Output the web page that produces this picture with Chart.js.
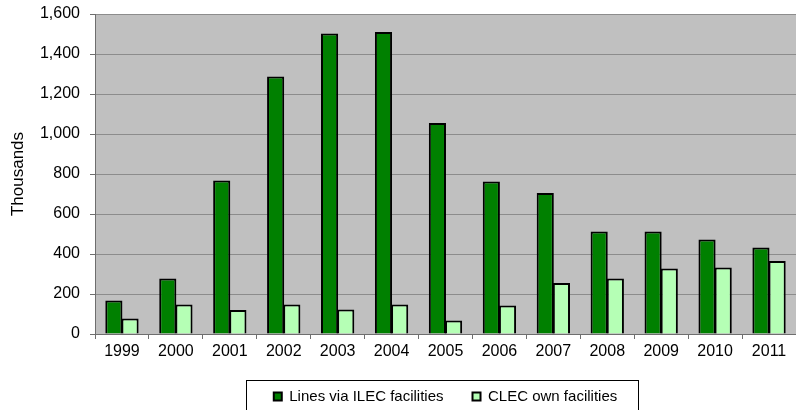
<!DOCTYPE html>
<html>
<head>
<meta charset="utf-8">
<script src="https://cdn.jsdelivr.net/npm/chart.js@4"></script>
<style>
  html, body { margin: 0; padding: 0; background: #fff; }
  #wrap { width: 796px; height: 410px; }
</style>
</head>
<body>
<div id="wrap"><canvas id="chartLines"></canvas></div>
<script>
// datos (miles)
const years = ['1999', '2000', '2001', '2002', '2003', '2004', '2005', '2006', '2007', '2008', '2009', '2010', '2011'];
const ilecLines = [168, 278, 767, 1288, 1502, 1510, 1055, 762, 705, 513, 513, 473, 433];
const clecLines = [77, 147, 120, 147, 123, 147, 67, 142, 255, 278, 327, 333, 365];
const yTicks = [0, 200, 400, 600, 800, 1000, 1200, 1400, 1600];

const FONT = 'Arial, "Liberation Sans", sans-serif';
const AXIS = '#6e6e6e';

// fondo gris del area de trazado
const plotBg = {
    id: 'plotBg',
    beforeDraw: function (chart) {
        const a = chart.chartArea;
        const ctx = chart.ctx;
        ctx.save();
        ctx.fillStyle = '#c0c0c0';
        ctx.fillRect(a.left, a.top, a.right - a.left, a.bottom - a.top);
        ctx.restore();
    },
};

// marco de la leyenda
const legendFrame = {
    id: 'legendFrame',
    afterDraw: function (chart) {
        const lg = chart.legend;
        if (!lg || !lg.legendHitBoxes || !lg.legendHitBoxes.length) return;
        const hb = lg.legendHitBoxes;
        const first = hb[0];
        const last = hb[hb.length - 1];
        const x0 = Math.round(first.left - 28) + 0.5;
        const x1 = Math.round(last.left + last.width + 21) + 0.5;
        const y0 = Math.round(lg.top + 20) + 0.5;
        const ctx = chart.ctx;
        ctx.save();
        ctx.strokeStyle = '#000';
        ctx.lineWidth = 1;
        ctx.strokeRect(x0, y0, x1 - x0, 60);
        ctx.restore();
    },
};

new Chart(document.getElementById('chartLines'), {
    type: 'bar',
    data: {
        labels: years,
        datasets: [
            {
                label: 'Lines via ILEC facilities',
                data: ilecLines,
                backgroundColor: '#008000',
                borderColor: '#000',
                borderWidth: 2,
            },
            {
                label: 'CLEC own facilities',
                data: clecLines,
                backgroundColor: '#b5ffb5',
                borderColor: '#000',
                borderWidth: 2,
            },
        ],
    },
    options: {
        responsive: true,
        maintainAspectRatio: false,
        animation: false,
        categoryPercentage: 0.6,
        barPercentage: 1.06,
        layout: { padding: { left: 0, top: 14, right: -7, bottom: -4 } },
        plugins: {
            tooltip: { enabled: false },
            legend: {
                position: 'bottom',
                fullSize: false,
                labels: {
                    color: '#000',
                    font: { family: FONT, size: 15 },
                    boxWidth: 8,
                    boxHeight: 8,
                    padding: 29,
                },
            },
        },
        scales: {
            x: {
                afterFit: function (s) { s.height = 26; s.paddingLeft = 0; s.paddingRight = 0; },
                ticks: { color: '#000', font: { family: FONT, size: 16 }, padding: 3, maxRotation: 0 },
                grid: { offset: true, drawOnChartArea: false, drawTicks: true, tickLength: 5, color: AXIS },
                border: { display: true, color: AXIS, width: 1 },
            },
            y: {
                min: 0,
                max: 1600,
                afterFit: function (s) { s.width = 95; s.paddingTop = 0; s.paddingBottom = 0; },
                afterBuildTicks: function (s) { s.ticks = yTicks.map(function (v) { return { value: v }; }); },
                title: { display: true, text: 'Thousands', color: '#000', font: { family: FONT, size: 17 }, padding: { top: 8 } },
                ticks: { color: '#000', font: { family: FONT, size: 16 }, padding: 10 },
                grid: { color: '#8c8c8c', tickLength: 5, tickColor: AXIS },
                border: { display: true, color: AXIS, width: 1 },
            },
        },
    },
    plugins: [plotBg, legendFrame],
});
</script>
</body>
</html>
